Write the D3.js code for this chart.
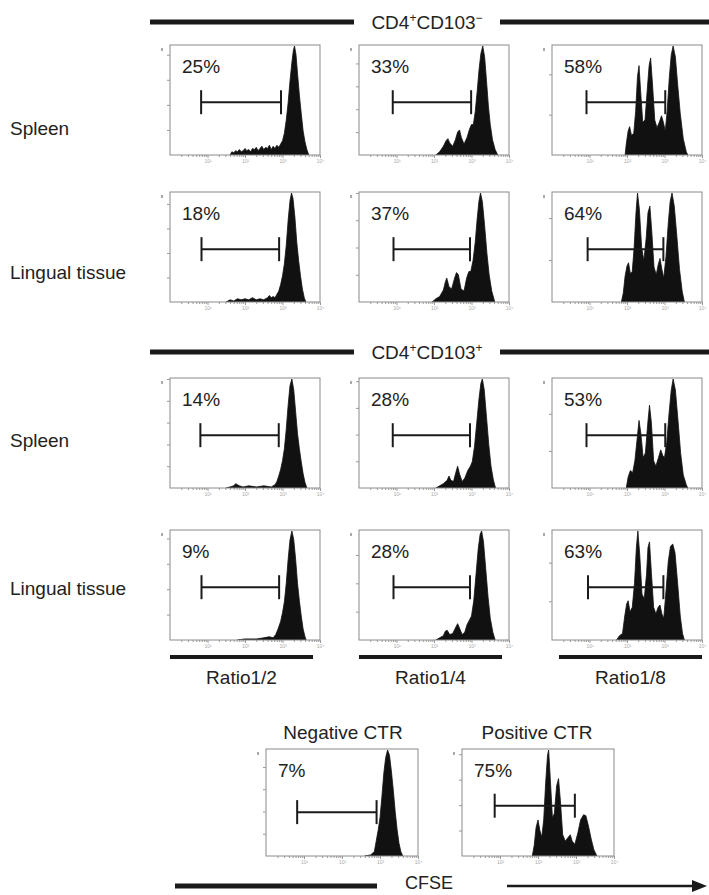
<!DOCTYPE html>
<html><head><meta charset="utf-8">
<script src="https://cdn.jsdelivr.net/npm/d3@7"></script>
<style>
html,body{margin:0;padding:0;background:#fff;}
svg{display:block;font-family:"Liberation Sans",Arial,Helvetica,sans-serif;}
</style></head>
<body><svg id="chart" width="709" height="895"></svg>
<script>
// ---------------- DATA ----------------
// histogram points: [log10 CFSE intensity, % of max count]
const histA1 = [[1.6,0],[1.65,3],[1.7,2],[1.75,4],[1.8,3],[1.85,5],[1.9,3],[1.95,4],[2.0,6],[2.05,4],[2.1,5],[2.15,3],[2.2,6],[2.25,5],[2.3,7],[2.35,4],[2.4,6],[2.45,8],[2.5,5],[2.55,7],[2.6,6],[2.65,9],[2.7,5],[2.75,8],[2.8,6],[2.85,9],[2.9,7],[2.95,10],[3.0,13],[3.05,20],[3.1,32],[3.15,48],[3.2,68],[3.25,85],[3.29,96],[3.32,100],[3.36,92],[3.4,75],[3.45,55],[3.5,38],[3.55,22],[3.6,12],[3.65,5],[3.7,0]];
const histA2 = [[2.05,0],[2.15,3],[2.25,8],[2.32,13],[2.37,15],[2.42,11],[2.5,8],[2.57,14],[2.63,21],[2.68,23],[2.73,16],[2.8,10],[2.88,16],[2.95,24],[3.0,28],[3.05,28],[3.1,40],[3.15,58],[3.2,78],[3.25,93],[3.3,100],[3.35,90],[3.4,68],[3.45,45],[3.5,28],[3.56,14],[3.63,5],[3.7,0]];
const histA3 = [[1.95,0],[1.98,10],[2.03,22],[2.07,26],[2.12,18],[2.18,20],[2.23,40],[2.28,72],[2.32,82],[2.36,60],[2.42,30],[2.48,32],[2.54,60],[2.59,82],[2.63,89],[2.68,65],[2.74,32],[2.8,25],[2.86,30],[2.92,36],[2.97,30],[3.02,22],[3.07,40],[3.13,72],[3.18,92],[3.23,100],[3.29,90],[3.35,65],[3.42,38],[3.5,15],[3.58,3],[3.62,0]];
const histB1 = [[1.5,0],[1.6,2],[1.7,1],[1.8,3],[1.9,2],[2.0,3],[2.1,2],[2.2,4],[2.3,2],[2.4,3],[2.5,2],[2.6,4],[2.65,6],[2.7,4],[2.75,5],[2.8,4],[2.85,7],[2.9,10],[2.95,16],[3.0,24],[3.05,35],[3.1,52],[3.15,75],[3.2,93],[3.24,100],[3.28,95],[3.33,78],[3.38,55],[3.43,38],[3.48,24],[3.53,12],[3.58,4],[3.62,0]];
const histB2 = [[1.95,0],[2.05,3],[2.15,5],[2.25,11],[2.3,18],[2.34,22],[2.4,14],[2.47,12],[2.55,22],[2.6,27],[2.65,25],[2.72,12],[2.8,10],[2.87,22],[2.93,28],[2.98,28],[3.04,38],[3.1,55],[3.15,76],[3.2,93],[3.24,100],[3.29,92],[3.35,70],[3.41,45],[3.47,25],[3.54,10],[3.62,0]];
const histB3 = [[1.85,0],[1.9,8],[1.95,24],[2.0,33],[2.04,36],[2.09,26],[2.14,28],[2.19,50],[2.24,82],[2.28,100],[2.33,85],[2.39,50],[2.45,38],[2.51,58],[2.56,82],[2.61,88],[2.66,65],[2.72,32],[2.78,25],[2.83,34],[2.88,40],[2.93,30],[2.98,22],[3.04,42],[3.1,72],[3.15,92],[3.2,100],[3.26,88],[3.33,60],[3.4,30],[3.47,10],[3.53,0]];
const histC1 = [[1.5,0],[1.6,1],[1.7,2],[1.75,4],[1.8,3],[1.85,2],[1.95,1],[2.1,2],[2.3,1],[2.5,2],[2.7,1],[2.8,3],[2.85,6],[2.9,11],[2.95,17],[3.0,25],[3.05,36],[3.1,54],[3.15,76],[3.2,94],[3.25,100],[3.3,90],[3.35,70],[3.4,50],[3.45,36],[3.5,24],[3.55,13],[3.6,5],[3.65,0]];
const histC2 = [[2.05,0],[2.15,2],[2.25,4],[2.35,7],[2.4,11],[2.45,7],[2.52,6],[2.58,14],[2.63,20],[2.68,13],[2.75,6],[2.82,9],[2.9,16],[2.97,20],[3.02,24],[3.08,38],[3.14,60],[3.2,82],[3.25,96],[3.29,100],[3.34,90],[3.4,65],[3.46,40],[3.52,20],[3.58,8],[3.64,0]];
const histC3 = [[1.98,0],[2.03,10],[2.09,16],[2.15,14],[2.21,25],[2.27,45],[2.32,62],[2.37,50],[2.43,28],[2.49,32],[2.55,58],[2.6,76],[2.65,60],[2.71,25],[2.77,20],[2.84,28],[2.9,35],[2.95,30],[3.0,28],[3.06,42],[3.12,68],[3.18,90],[3.23,100],[3.29,90],[3.36,62],[3.43,32],[3.5,12],[3.58,3],[3.62,0]];
const histD1 = [[1.8,0],[2.0,1],[2.3,1],[2.5,2],[2.65,3],[2.75,2],[2.82,5],[2.88,10],[2.95,17],[3.0,25],[3.05,35],[3.1,52],[3.15,74],[3.2,92],[3.25,100],[3.3,92],[3.35,74],[3.4,52],[3.45,36],[3.5,22],[3.55,10],[3.6,3],[3.63,0]];
const histD2 = [[2.05,0],[2.15,2],[2.25,4],[2.3,8],[2.35,9],[2.42,5],[2.5,6],[2.57,11],[2.63,15],[2.68,11],[2.75,5],[2.82,7],[2.88,14],[2.94,18],[3.0,22],[3.06,36],[3.12,60],[3.18,84],[3.23,97],[3.27,100],[3.32,90],[3.38,65],[3.44,40],[3.5,20],[3.57,7],[3.63,0]];
const histD3 = [[1.72,0],[1.8,4],[1.88,6],[1.94,22],[1.99,33],[2.03,36],[2.08,26],[2.14,30],[2.2,52],[2.25,85],[2.29,100],[2.34,78],[2.4,42],[2.46,38],[2.52,60],[2.56,85],[2.6,90],[2.65,62],[2.71,30],[2.77,24],[2.83,30],[2.88,32],[2.93,24],[2.98,20],[3.04,45],[3.1,72],[3.16,86],[3.22,88],[3.28,80],[3.35,52],[3.42,22],[3.48,6],[3.53,0]];
const histNeg = [[2.6,0],[2.75,1],[2.85,4],[2.9,14],[2.95,24],[3.0,36],[3.05,56],[3.1,78],[3.15,93],[3.2,100],[3.25,95],[3.3,80],[3.35,62],[3.4,42],[3.45,25],[3.5,12],[3.55,4],[3.6,0]];
const histPos = [[1.85,0],[1.9,10],[1.95,27],[2.0,34],[2.05,24],[2.1,18],[2.15,34],[2.2,68],[2.25,95],[2.28,100],[2.32,75],[2.38,36],[2.43,40],[2.49,66],[2.54,73],[2.59,52],[2.65,20],[2.72,14],[2.78,17],[2.85,20],[2.9,14],[2.97,11],[3.05,22],[3.12,34],[3.2,39],[3.26,38],[3.33,28],[3.4,16],[3.47,6],[3.55,0]];

const gridHists = [histA1,histA2,histA3,histB1,histB2,histB3,histC1,histC2,histC3,histD1,histD2,histD3];
const gridPercents = ["25%","33%","58%","18%","37%","64%","14%","28%","53%","9%","28%","63%"];
// gate limits (log10 CFSE)
const gridGateLo = [0.83,0.9,0.92,0.84,0.92,0.95,0.81,0.9,0.92,0.84,0.92,0.96];
const gridGateHi = [2.96,2.99,3.02,2.91,2.96,2.97,2.9,2.96,3.02,2.91,2.96,2.97];
// y-axis tick spacing (fraction of max count)
const gridYStep = [0.23,0.21,0.37,0.225,0.25,0.385,0.2,0.245,0.34,0.233,0.26,0.355];

const rowLabels = ["Spleen","Lingual tissue","Spleen","Lingual tissue"];
const ratioLabels = ["Ratio1/2","Ratio1/4","Ratio1/8"];
const ctrLabels = ["Negative CTR","Positive CTR"];
const ctrHists = [histNeg, histPos];
const ctrPercents = ["7%","75%"];
const ctrGateLo = [0.82,0.86];
const ctrGateHi = [2.91,2.97];
const ctrYStep = [0.21,0.24];
const xTickLabels = ["10¹","10²","10³","10⁴"];

// ---------------- LAYOUT ----------------
const svg = d3.select("#chart");
const ink = "#222";
const colX = [170, 359, 552];
const rowY = [45, 192, 378, 530];
const PW = 150, PH = 110;
const FS = 19;

let clipId = 0;
function panel(x0, y0, w, h, data, pct, gLo, gHi, yStep, gateFrac) {
  const g = svg.append("g").attr("transform", `translate(${x0},${y0})`);
  const xs = d3.scaleLog().domain([1, 1e4]).range([0, w]);
  const ys = d3.scaleLinear().domain([0, 100]).range([h, 1]);
  const id = "clip" + (clipId++);
  g.append("clipPath").attr("id", id).append("rect").attr("width", w).attr("height", h);
  const area = d3.area()
    .x(d => xs(Math.pow(10, d[0])))
    .y0(h).y1(d => ys(d[1]))
    .curve(d3.curveLinear);
  g.append("path").datum(data).attr("clip-path", `url(#${id})`)
    .attr("d", area).attr("fill", "#111").attr("stroke", "#111").attr("stroke-width", 0.8)
    .attr("stroke-linejoin", "round");
  g.append("rect").attr("width", w).attr("height", h)
    .attr("fill", "none").attr("stroke", "#8a8a8a").attr("stroke-width", 1);
  const minor = [];
  for (let e = 0; e < 4; e++) for (let m = 2; m <= 9; m++) minor.push(m * Math.pow(10, e));
  g.append("g").attr("transform", `translate(0,${h})`)
    .call(d3.axisBottom(xs).tickValues(minor).tickSize(2).tickFormat(""))
    .call(a => a.select(".domain").remove())
    .selectAll("line").attr("stroke", "#999");
  const major = [10, 100, 1000, 10000];
  const ax = g.append("g").attr("transform", `translate(0,${h})`)
    .call(d3.axisBottom(xs).tickValues(major).tickSize(3).tickPadding(1)
      .tickFormat((d, i) => xTickLabels[i]));
  ax.select(".domain").remove();
  ax.selectAll("line").attr("stroke", "#999");
  ax.selectAll("text").attr("font-size", 5).attr("fill", "#aaa")
    .attr("font-family", "Liberation Sans, Arial, sans-serif");
  const yt = [];
  for (let v = yStep; v <= 1.0001; v += yStep) yt.push(v * 100);
  const ay = g.append("g").call(d3.axisLeft(ys).tickValues(yt).tickSize(3).tickFormat(""));
  ay.select(".domain").remove();
  ay.selectAll("line").attr("stroke", "#999");
  g.append("rect").attr("x", -9).attr("y", 3).attr("width", 2).attr("height", 3).attr("fill", "#aaa");
  const gy = h * gateFrac;
  const gx1 = xs(Math.pow(10, gLo)), gx2 = xs(Math.pow(10, gHi));
  g.append("line").attr("x1", gx1).attr("x2", gx2).attr("y1", gy).attr("y2", gy)
    .attr("stroke", "#1a1a1a").attr("stroke-width", 2);
  [gx1, gx2].forEach(gx => g.append("line").attr("x1", gx).attr("x2", gx)
    .attr("y1", gy - 12).attr("y2", gy + 12).attr("stroke", "#1a1a1a").attr("stroke-width", 2));
  g.append("text").attr("x", 12).attr("y", 28).attr("font-size", FS).attr("fill", ink).text(pct);
}

for (let r = 0; r < 4; r++) {
  for (let c = 0; c < 3; c++) {
    const i = r * 3 + c;
    panel(colX[c], rowY[r], PW, PH, gridHists[i], gridPercents[i],
      gridGateLo[i], gridGateHi[i], gridYStep[i], 0.52);
  }
}
const ctrX = [266, 462];
const ctrCenter = [343, 537];
ctrHists.forEach((h, i) => {
  panel(ctrX[i], 749, 152, 107, h, ctrPercents[i], ctrGateLo[i], ctrGateHi[i], ctrYStep[i], i === 0 ? 0.59 : 0.53);
  svg.append("text").attr("x", ctrCenter[i]).attr("y", 739).attr("text-anchor", "middle")
    .attr("font-size", FS).attr("fill", ink).text(ctrLabels[i]);
});

const rowLabelY = [135, 279, 447, 595];
rowLabels.forEach((t, i) => svg.append("text").attr("x", 10).attr("y", rowLabelY[i])
  .attr("font-size", FS).attr("fill", ink).text(t));

function header(y, sign) {
  svg.append("line").attr("x1", 150).attr("x2", 354).attr("y1", y).attr("y2", y)
    .attr("stroke", "#1a1a1a").attr("stroke-width", 5);
  svg.append("line").attr("x1", 500).attr("x2", 709).attr("y1", y).attr("y2", y)
    .attr("stroke", "#1a1a1a").attr("stroke-width", 5);
  const t = svg.append("text").attr("x", 427).attr("y", y + 7).attr("text-anchor", "middle")
    .attr("font-size", FS).attr("fill", ink);
  t.append("tspan").text("CD4");
  t.append("tspan").attr("dy", -7).attr("font-size", 12).text("+");
  t.append("tspan").attr("dy", 7).text("CD103");
  t.append("tspan").attr("dy", -7).attr("font-size", 12).text(sign);
}
header(22, "−");
header(352, "+");

const ratioBarX = [[170, 313], [359, 502], [559, 702]];
ratioLabels.forEach((t, i) => {
  svg.append("line").attr("x1", ratioBarX[i][0]).attr("x2", ratioBarX[i][1])
    .attr("y1", 657).attr("y2", 657).attr("stroke", "#1a1a1a").attr("stroke-width", 4);
  svg.append("text").attr("x", (ratioBarX[i][0] + ratioBarX[i][1]) / 2).attr("y", 684)
    .attr("text-anchor", "middle").attr("font-size", FS).attr("fill", ink).text(t);
});

svg.append("line").attr("x1", 175).attr("x2", 377).attr("y1", 886).attr("y2", 886)
  .attr("stroke", "#1a1a1a").attr("stroke-width", 5);
svg.append("line").attr("x1", 507).attr("x2", 695).attr("y1", 886).attr("y2", 886)
  .attr("stroke", "#1a1a1a").attr("stroke-width", 2.5);
svg.append("path").attr("d", "M692,880 L707,886 L692,892 Z").attr("fill", "#1a1a1a");
svg.append("text").attr("x", 429).attr("y", 889).attr("text-anchor", "middle")
  .attr("font-size", 18).attr("fill", ink).text("CFSE");
</script></body></html>
